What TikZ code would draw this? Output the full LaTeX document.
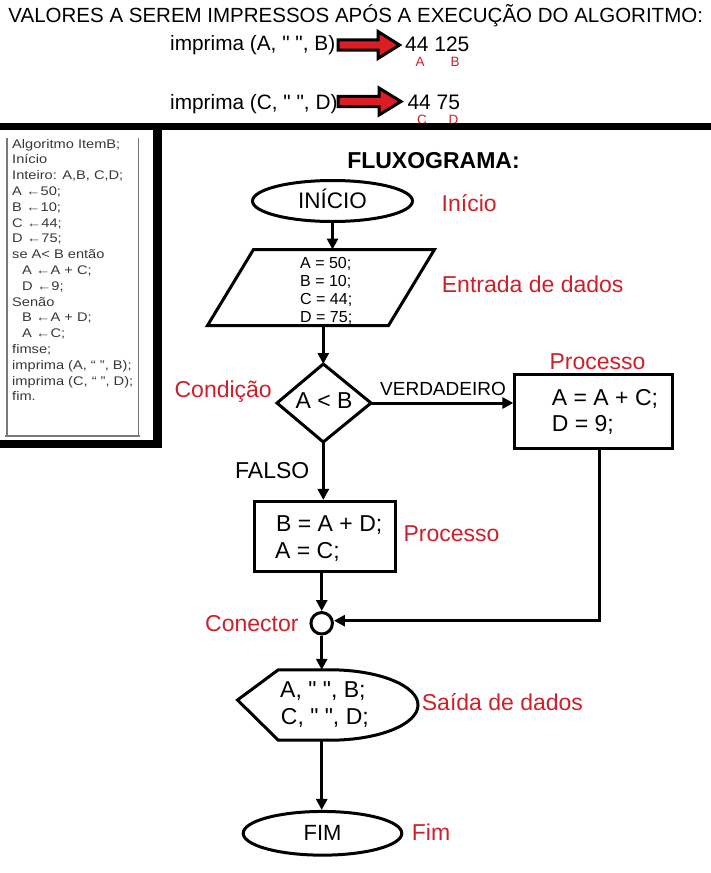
\documentclass[tikz,border=0pt]{standalone}
\usepackage{fontspec}
\setmainfont{Liberation Sans}[Ligatures=TeXOff]
\usetikzlibrary{arrows.meta,shapes.geometric}
\definecolor{lblred}{RGB}{205,32,42}
\definecolor{codegray}{RGB}{55,55,55}
\definecolor{boxgray}{RGB}{120,120,120}
\definecolor{arrred}{RGB}{220,30,36}
\newcommand{\codeline}[1]{\scalebox{1.17}[1]{#1}}
\begin{document}
\begin{tikzpicture}[x=1pt,y=-1pt,
  lbl/.style={text=lblred, font=\fontsize{23}{27}\selectfont, inner sep=0pt, anchor=base west},
  txt/.style={font=\fontsize{23}{27}\selectfont, inner sep=0pt, anchor=base west},
  small/.style={font=\fontsize{16}{18}\selectfont, inner sep=0pt, anchor=base west},
  code/.style={text=codegray, font=\fontsize{12.5}{13}\selectfont, inner sep=0pt, anchor=base west},
  redletter/.style={anchor=base west, inner sep=0pt, text=lblred, font=\fontsize{13.5}{16}\selectfont},
  flow/.style={line width=3pt, -{Triangle[length=11pt,width=11pt]}},
  shp/.style={draw=black, line width=3pt, line join=miter},
  fat/.style={draw=black, fill=arrred, line width=3pt, line join=miter}
]
\useasboundingbox (0,0) rectangle (711,873);

% ---------- header ----------
\node[anchor=base west, inner sep=0pt, font=\fontsize{20.5}{24}\selectfont] (title) at (8.3,22.7)
  {VALORES A SEREM IMPRESSOS APÓS A EXECUÇÃO DO ALGORITMO:};

\node[anchor=base west, inner sep=0pt, font=\fontsize{20.8}{24}\selectfont] (imp1) at (170,50) {imprima (A, " ", B)};
\node[anchor=base west, inner sep=0pt, font=\fontsize{20.8}{24}\selectfont] (imp2) at (170,109.5) {imprima (C, " ", D)};

\draw[fat] (338,39.8) -- (378,39.8) -- (378,31.5) -- (399.5,45) -- (378,58.5) -- (378,50.2) -- (338,50.2) -- cycle;
\draw[fat] (338,96.3) -- (379,96.3) -- (379,88) -- (401,101.5) -- (379,115) -- (379,106.7) -- (338,106.7) -- cycle;

\node[anchor=base west, inner sep=0pt, font=\fontsize{21}{24}\selectfont] (v1) at (405,51.5) {44 125};
\node[anchor=base west, inner sep=0pt, font=\fontsize{21}{24}\selectfont] (v2) at (407.3,109.5) {44 75};
\node[redletter] (la) at (415.5,66.5) {A};
\node[redletter] (lb) at (450.5,66.5) {B};
\node[redletter] (lc) at (417,124.5) {C};
\node[redletter] (ld) at (448.5,124.5) {D};

% thick separator and code frame
\fill[black] (0,123) rectangle (711,129.5);
\fill[black] (153,123) rectangle (162,448);
\fill[black] (0,440) rectangle (162,448);

% inner gray box
\draw[boxgray, line width=1.5pt] (7,138) -- (7,436) (138.5,138) -- (138.5,436) (5,436) -- (140,436);

\foreach \t [count=\i] in {
  {Algoritmo ItemB;},
  {Início},
  {Inteiro: A,B, C,D;},
  {A ←50;},
  {B ←10;},
  {C ←44;},
  {D ←75;},
  {se A< B então},
  {\hspace*{8.5pt}A ←A + C;},
  {\hspace*{8.5pt}D ←9;},
  {Senão},
  {\hspace*{8.5pt}B ←A + D;},
  {\hspace*{8.5pt}A ←C;},
  {fimse;},
  {imprima (A, “ ”, B);},
  {imprima (C, “ ”, D);},
  {fim.}}
  \node[code] (code\i) at (12,{148+15.8*(\i-1)}) {\codeline{\t}};

% ---------- flowchart ----------
\node[anchor=base, inner sep=0pt, font=\bfseries\fontsize{23}{27}\selectfont] (fluxo) at (433.5,168) {FLUXOGRAMA:};

% INICIO
\node[shp, ellipse, minimum width=160pt, minimum height=41pt, inner sep=0pt,
      font=\fontsize{22.5}{27}\selectfont, text height=15.5pt, text depth=0pt] (inicio) at (332.5,201) {INÍCIO};
\node[lbl] (linicio) at (441.5,211.5) {Início};

% Entrada (parallelogram)
\coordinate (parTop) at (332.5,249.5);
\coordinate (parBot) at (323.3,325.5);
\draw[shp] (253.5,249.5) -- (434.5,249.5) -- (388.5,325.5) -- (207.5,325.5) -- cycle;
\node[small] (e1) at (300,268.3) {A = 50;};
\node[small] (e2) at (300,286.7) {B = 10;};
\node[small] (e3) at (300,304) {C = 44;};
\node[small] (e4) at (300,322.3) {D = 75;};
\node[lbl] (lentrada) at (441.7,292.7) {Entrada de dados};

\draw[flow] (inicio.south) -- (parTop);

% Decision diamond
\coordinate (diaTop) at (323.3,364);
\coordinate (diaBot) at (323.3,442);
\coordinate (diaL) at (277,403);
\coordinate (diaR) at (371,403);
\draw[shp] (diaTop) -- (diaR) -- (diaBot) -- (diaL) -- cycle;
\node[anchor=base, inner sep=0pt, font=\fontsize{23}{27}\selectfont] (cond) at (324,408.3) {A < B};
\node[lbl, anchor=base east] (lcond) at (272,397) {Condição};

\draw[flow] (parBot) -- (diaTop);

% Process box (true)
\node[shp, rectangle, minimum width=157.7pt, minimum height=73.7pt, inner sep=0pt] (box1) at (593.7,411.7) {};
\node[txt] (b1a) at (551.7,405) {A = A + C;};
\node[txt] (b1b) at (551.7,431.7) {D = 9;};
\node[lbl] (lproc1) at (549.3,369.3) {Processo};

\draw[flow] (diaR) -- (diaR -| box1.west);
\node[anchor=base west, inner sep=0pt, font=\fontsize{19}{22}\selectfont] (verd) at (380,395) {VERDADEIRO};

% Process box (false)
\node[shp, rectangle, minimum width=141.6pt, minimum height=69.7pt, inner sep=0pt] (box2) at (325,536.3) {};
\node[txt] (b2a) at (276,531) {B = A + D;};
\node[txt] (b2b) at (275,558.3) {A = C;};
\node[lbl] (lproc2) at (403.3,541.7) {Processo};

\draw[flow] (diaBot) -- (diaBot |- box2.north);
\node[txt] (falso) at (235,478.3) {FALSO};

% Connector
\node[shp, circle, minimum size=21.5pt, inner sep=0pt] (conn) at (321.7,623.3) {};
\node[lbl] (lconn) at (205,631.7) {Conector};
\coordinate (rt) at (599.3,620.7);
\draw[flow] (box2.south -| conn) -- (conn.north);
\draw[line width=3pt, line join=miter, -{Triangle[length=11pt,width=11pt]}] (box1.south -| rt) -- (rt) -- (rt -| conn.east);

% Display (output)
\coordinate (dispTop) at (321.7,669.8);
\coordinate (dispBot) at (321.7,740.2);
\draw[shp] (237.5,700) -- (278.3,669.8) -- (330,669.8)
   arc[start angle=-90, end angle=90, x radius=88, y radius=35.2]
   -- (278.3,740.2) -- cycle;
\node[txt] (d1) at (280,697.3) {A, " ", B;};
\node[txt] (d2) at (280.7,724) {C, " ", D;};
\node[lbl] (lsaida) at (421.7,710) {Saída de dados};

\draw[flow] (conn.south) -- (dispTop);

% FIM
\node[shp, ellipse, minimum width=158.6pt, minimum height=43.7pt, inner sep=0pt,
      font=\fontsize{22}{27}\selectfont, text height=13.6pt, text depth=0pt] (fim) at (322.5,833.3) {FIM};
\node[lbl] (lfim) at (411.7,840) {Fim};

\draw[flow] (dispBot) -- (dispBot |- fim.north);
\end{tikzpicture}
\end{document}
